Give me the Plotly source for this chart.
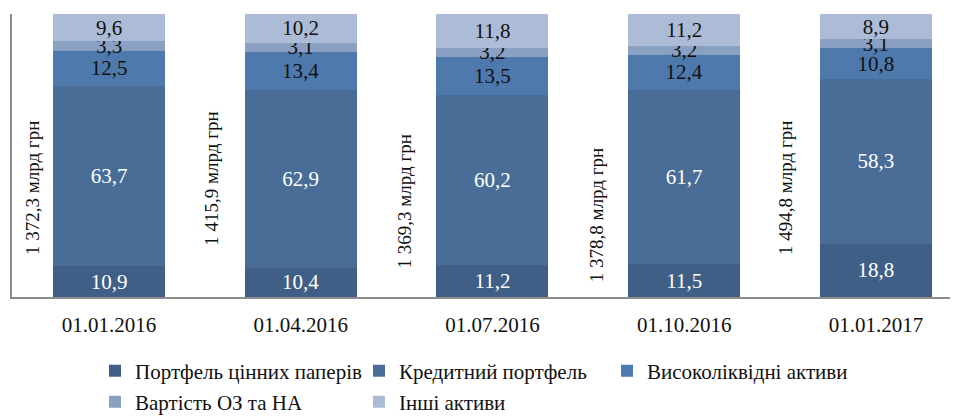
import plotly.graph_objects as go

categories = ["01.01.2016", "01.04.2016", "01.07.2016", "01.10.2016", "01.01.2017"]
series_names = ["Портфель цінних паперів", "Кредитний портфель", "Високоліквідні активи",
                "Вартість ОЗ та НА", "Інші активи"]
securities = [10.9, 10.4, 11.2, 11.5, 18.8]
loans = [63.7, 62.9, 60.2, 61.7, 58.3]
liquid = [12.5, 13.4, 13.5, 12.4, 10.8]
fixed_assets = [3.3, 3.1, 3.2, 3.2, 3.1]
other = [9.6, 10.2, 11.8, 11.2, 8.9]
totals = ["1 372,3 млрд грн", "1 415,9 млрд грн", "1 369,3 млрд грн",
          "1 378,8 млрд грн", "1 494,8 млрд грн"]

series_values = [securities, loans, liquid, fixed_assets, other]
colors = ["#3f5f86", "#4a6d97", "#4e79ac", "#8aa0c3", "#adbcd6"]
text_colors = ["white", "white", "#111111", "#111111", "#111111"]
legend_ids = ["legend", "legend2", "legend3", "legend4", "legend5"]

FONT = "Liberation Serif, Times New Roman, DejaVu Serif, serif"
# the page body adds an 8px margin, so the figure is drawn 8px smaller
PAGE_OFF = 8
W, H = 958 - PAGE_OFF, 416 - PAGE_OFF
ML, MR, MT, MB = 12 - PAGE_OFF, 0, 14 - PAGE_OFF, 119

fig = go.Figure()
for name, vals, col, tcol, lg in zip(series_names, series_values, colors, text_colors, legend_ids):
    fig.add_trace(go.Bar(
        x=categories, y=vals, name=name, marker=dict(color=col, line=dict(width=0)),
        width=0.584,
        text=[f"{v:.1f}".replace(".", ",") for v in vals],
        textposition="inside", insidetextanchor="middle", textangle=0,
        constraintext="none",
        textfont=dict(family=FONT, size=21, color=tcol),
        legend=lg, showlegend=True, hoverinfo="skip",
    ))

# rotated total labels to the left of each bar
label_shift = [-77, -89, -88, -87, -91]
label_y = [38.5, 41.7, 33.9, 29.0, 38.5]
for cat, t, dx, yy in zip(categories, totals, label_shift, label_y):
    fig.add_annotation(x=cat, y=yy, xref="x", yref="y", text=t, showarrow=False,
                       textangle=-90, xshift=dx,
                       font=dict(family=FONT, size=19, color="#111111"))

plot_w = W - ML - MR
plot_h = H - MT - MB
plot_left_screen = PAGE_OFF + ML
plot_bottom_screen = PAGE_OFF + H - MB
def px_x(px):
    return (px - plot_left_screen) / plot_w
def px_y(py):
    return (plot_bottom_screen - py) / plot_h

legend_pos = [(95, 371), (359, 371), (607, 371), (95, 402), (359, 402)]
legend_layout = {}
for lg, (lx, ly) in zip(legend_ids, legend_pos):
    legend_layout[lg] = dict(x=px_x(lx), y=px_y(ly), xanchor="left", yanchor="middle",
                             orientation="h", bgcolor="rgba(0,0,0,0)",
                             font=dict(family=FONT, size=21, color="#111111"))

fig.update_layout(
    width=W, height=H, barmode="stack", showlegend=True,
    margin=dict(l=ML, r=MR, t=MT, b=MB, autoexpand=False),
    paper_bgcolor="white", plot_bgcolor="white",
    font=dict(family=FONT, color="#111111"),
    xaxis=dict(type="category", range=[-0.506, 4.428], showline=True, linecolor="#8c8c8c",
               linewidth=2, ticks="", showgrid=False, zeroline=False, ticklabelstandoff=8,
               automargin=False,
               tickfont=dict(family=FONT, size=21, color="#111111")),
    yaxis=dict(range=[0, 100], showline=True, linecolor="#8c8c8c", linewidth=2,
               automargin=False,
               showticklabels=False, ticks="", showgrid=False, zeroline=False),
    **legend_layout,
)

fig.write_html("out.html")
